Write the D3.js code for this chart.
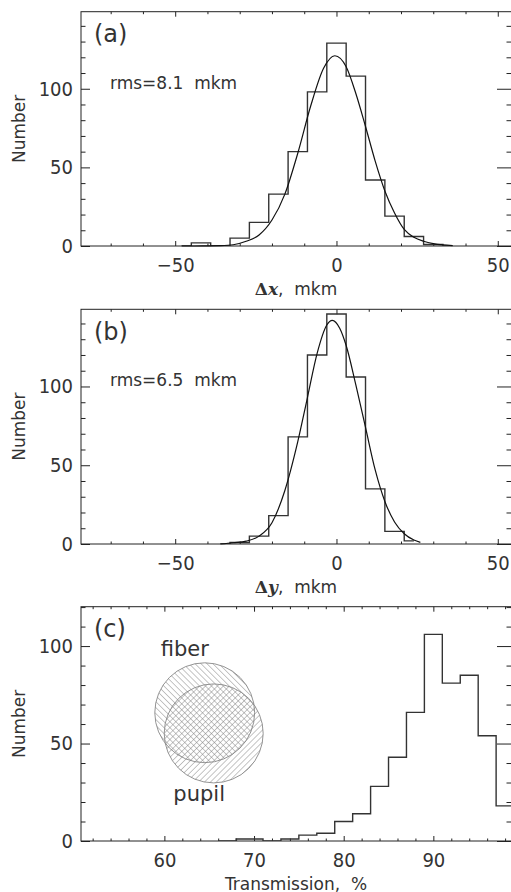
<!DOCTYPE html>
<html>
<head>
<meta charset="utf-8">
<script src="https://cdn.jsdelivr.net/npm/d3@7"></script>
<style>
  body { margin: 0; background: #fff; }
  svg { display: block; }
</style>
</head>
<body>
<svg id="chart"></svg>
<script>
// panel (a): delta x histogram (step edges, counts) and fitted curve
var dxEdges = [-48, -45, -39, -33, -27, -21, -15, -9, -3, 3, 9, 15, 21, 27, 33, 36];
var dxCounts = [0, 2, 0, 5, 15, 33, 60, 98, 129, 108, 42, 19, 6, 1, 0];
var dxFitX = [-48, -44, -40, -36, -32, -28, -24, -20, -16, -12, -8, -4, -0.5, 3, 6, 9, 12, 15, 18, 21, 24, 27, 30, 33, 36];
var dxFitY = [0, 0, 0.05, 0.2, 0.8, 3, 7, 16.5, 33, 59, 89, 113, 121, 114, 97, 76, 54, 35, 21, 10.5, 5.5, 3, 1.5, 0.7, 0.3];

// panel (b): delta y
var dyEdges = [-36, -33, -27, -21, -15, -9, -3, 3, 9, 15, 21, 24];
var dyCounts = [0, 1, 5, 18, 68, 120, 146, 106, 35, 8, 2];
var dyFitX = [-36, -32, -28, -24, -20, -16, -12, -9, -6, -3, -1.3, 1, 3, 6, 9, 12, 15, 18, 21, 24, 26];
var dyFitY = [0, 0.8, 1.8, 5, 13.5, 34, 65, 93, 121, 139, 142, 137, 126, 101, 74, 47, 27, 14, 6.5, 2.5, 1];

// panel (c): transmission
var trEdges = [66, 68, 71, 73, 75, 77, 79, 81, 83, 85, 87, 89, 91, 93, 95, 97, 99];
var trCounts = [0, 1, 0, 1, 3, 4, 10, 14, 28, 43, 66, 106, 81, 85, 54, 18];

// sketch of fiber and pupil in panel (c), in data units
var circleNames = ["fiber", "pupil"];
var circleCx = [64.5, 65.5];
var circleCy = [65.8, 55.2];
var circleR = [5.57, 5.52];
var circleLabelX = [59.6, 61.0];
var circleLabelY = [94.9, 20.5];

var panelLetters = ["(a)", "(b)", "(c)"];
var rmsLabels = ["rms=8.1  mkm", "rms=6.5  mkm", null];

var W = 511, H = 892;
var left = 81, right = 511;
var frameRight = 512; // right axis sits just past the picture edge
var tickFont = '"Liberation Sans Narrow", "DejaVu Sans Condensed", "Liberation Sans", sans-serif';
var textFont = '"DejaVu Sans", sans-serif';
var ink = "#222";
var textInk = "#333";

var svg = d3.select("#chart").attr("width", W).attr("height", H);
svg.append("rect").attr("width", W).attr("height", H).attr("fill", "#fff");

var defs = svg.append("defs");
function hatch(id, angle) {
  var p = defs.append("pattern")
    .attr("id", id)
    .attr("patternUnits", "userSpaceOnUse")
    .attr("width", 4.2).attr("height", 4.2)
    .attr("patternTransform", "rotate(" + angle + ")");
  p.append("line")
    .attr("x1", 0).attr("y1", 0).attr("x2", 0).attr("y2", 4.2)
    .attr("stroke", "#808080").attr("stroke-width", 0.9);
}
hatch("hatchFiber", -45);
hatch("hatchPupil", 45);

var panels = [
  { top: 11.7, bottom: 246, xDomain: [-79.2, 54.1], yDomain: [0, 149],
    xMajor: [-50, 0, 50], xMinor: d3.range(-70, 55, 10), yMajor: [0, 50, 100], yMinor: d3.range(10, 150, 10),
    edges: dxEdges, counts: dxCounts, fitX: dxFitX, fitY: dxFitY, xlabel: "x" },
  { top: 309.3, bottom: 544, xDomain: [-79.2, 54.1], yDomain: [0, 149],
    xMajor: [-50, 0, 50], xMinor: d3.range(-70, 55, 10), yMajor: [0, 50, 100], yMinor: d3.range(10, 150, 10),
    edges: dyEdges, counts: dyCounts, fitX: dyFitX, fitY: dyFitY, xlabel: "y" },
  { top: 606.7, bottom: 841, xDomain: [50.7, 98.66], yDomain: [0, 120.2],
    xMajor: [60, 70, 80, 90], xMinor: d3.range(52, 99, 2), yMajor: [0, 50, 100], yMinor: d3.range(10, 121, 10),
    edges: trEdges, counts: trCounts, fitX: null, fitY: null, xlabel: null }
];

function tickAxis(g, axis, size, pad, fmt) {
  g.call(axis.tickSize(size).tickPadding(pad).tickFormat(fmt));
  g.select(".domain").remove();
  g.selectAll(".tick line").attr("stroke", ink);
  g.selectAll("text").attr("font-family", tickFont).attr("font-size", 20).attr("fill", textInk);
}

panels.forEach(function (p, i) {
  var x = d3.scaleLinear().domain(p.xDomain).range([left, right]);
  var y = d3.scaleLinear().domain(p.yDomain).range([p.bottom, p.top]);
  var g = svg.append("g");

  var clipId = "clip" + i;
  defs.append("clipPath").attr("id", clipId).append("rect")
    .attr("x", left).attr("y", p.top).attr("width", frameRight - left).attr("height", p.bottom - p.top);

  // inward ticks on all four sides, IDL style
  var fmt = d3.format("d");
  var none = function () { return ""; };
  var xMin = p.xMinor.filter(function (v) { return p.xMajor.indexOf(v) < 0; });
  var yMin = p.yMinor.filter(function (v) { return p.yMajor.indexOf(v) < 0; });
  tickAxis(g.append("g").attr("transform", "translate(0," + p.bottom + ")"), d3.axisBottom(x).tickValues(xMin), -2.5, 0, none);
  tickAxis(g.append("g").attr("transform", "translate(0," + p.bottom + ")"), d3.axisBottom(x).tickValues(p.xMajor), -5, 11.8, fmt);
  tickAxis(g.append("g").attr("transform", "translate(0," + p.top + ")"), d3.axisTop(x).tickValues(xMin), -2.5, 0, none);
  tickAxis(g.append("g").attr("transform", "translate(0," + p.top + ")"), d3.axisTop(x).tickValues(p.xMajor), -5, 0, none);
  tickAxis(g.append("g").attr("transform", "translate(" + left + ",0)"), d3.axisLeft(y).tickValues(yMin), -4.5, 0, none);
  tickAxis(g.append("g").attr("transform", "translate(" + left + ",0)"), d3.axisLeft(y).tickValues(p.yMajor), -9, 8, fmt);
  tickAxis(g.append("g").attr("transform", "translate(" + frameRight + ",0)"), d3.axisRight(y).tickValues(yMin), -5.5, 0, none);
  tickAxis(g.append("g").attr("transform", "translate(" + frameRight + ",0)"), d3.axisRight(y).tickValues(p.yMajor), -15, 0, none);

  g.append("rect")
    .attr("x", left).attr("y", p.top)
    .attr("width", frameRight - left).attr("height", p.bottom - p.top)
    .attr("fill", "none").attr("stroke", ink).attr("stroke-width", 1);

  // histogram drawn as steps
  var pts = p.counts.map(function (c, k) { return [p.edges[k], c]; });
  pts.push([p.edges[p.edges.length - 1], p.counts[p.counts.length - 1]]);
  var step = d3.line().x(function (d) { return x(d[0]); }).y(function (d) { return y(d[1]); }).curve(d3.curveStepAfter);
  g.append("path")
    .datum(pts)
    .attr("clip-path", "url(#" + clipId + ")")
    .attr("d", step)
    .attr("fill", "none").attr("stroke", "#333").attr("stroke-width", 1.4);

  if (p.fitX) {
    var fit = d3.line().x(function (d) { return x(d[0]); }).y(function (d) { return y(d[1]); }).curve(d3.curveMonotoneX);
    g.append("path")
      .datum(p.fitX.map(function (v, k) { return [v, p.fitY[k]]; }))
      .attr("d", fit)
      .attr("fill", "none").attr("stroke", "#111").attr("stroke-width", 1.2);
  }

  // panel letter and rms note
  g.append("text").attr("x", left + 13).attr("y", p.top + 30.5)
    .attr("font-family", textFont).attr("font-size", 24).attr("fill", textInk)
    .text(panelLetters[i]);
  if (rmsLabels[i]) {
    g.append("text").attr("x", left + 29).attr("y", p.top + 77)
      .attr("font-family", textFont).attr("font-size", 17).attr("fill", textInk)
      .style("white-space", "pre")
      .text(rmsLabels[i]);
  }

  // y title
  g.append("text")
    .attr("transform", "translate(25," + ((p.top + p.bottom) / 2) + ") rotate(-90)")
    .attr("text-anchor", "middle")
    .attr("font-family", textFont).attr("font-size", 17).attr("fill", textInk)
    .text("Number");

  // x title
  var xt = g.append("text")
    .attr("x", (left + right) / 2).attr("y", p.bottom + 48.5)
    .attr("text-anchor", "middle")
    .attr("font-family", textFont).attr("font-size", 17).attr("fill", textInk)
    .style("white-space", "pre");
  if (p.xlabel) {
    xt.append("tspan").attr("font-family", '"DejaVu Serif", serif').attr("font-weight", "bold").text("\u0394");
    xt.append("tspan").attr("font-family", '"DejaVu Serif", serif').attr("font-weight", "bold").attr("font-style", "italic").text(p.xlabel);
    xt.append("tspan").text(",  mkm");
  } else {
    xt.text("Transmission,  %");
  }

  if (i === 2) {
    var circ = circleNames.map(function (n, k) {
      return { name: n, cx: circleCx[k], cy: circleCy[k], r: circleR[k], lx: circleLabelX[k], ly: circleLabelY[k] };
    });
    g.selectAll("circle.sketch")
      .data(circ)
      .join("circle")
      .attr("class", "sketch")
      .attr("cx", function (d) { return x(d.cx); })
      .attr("cy", function (d) { return y(d.cy); })
      .attr("r", function (d) { return x(d.cx + d.r) - x(d.cx); })
      .attr("fill", function (d) { return d.name === "fiber" ? "url(#hatchFiber)" : "url(#hatchPupil)"; })
      .attr("stroke", "#888").attr("stroke-width", 0.9);
    g.selectAll("text.sketch")
      .data(circ)
      .join("text")
      .attr("class", "sketch")
      .attr("x", function (d) { return x(d.lx); })
      .attr("y", function (d) { return y(d.ly); })
      .attr("font-family", textFont).attr("font-size", 21).attr("fill", textInk)
      .text(function (d) { return d.name; });
  }
});
</script>
</body>
</html>
